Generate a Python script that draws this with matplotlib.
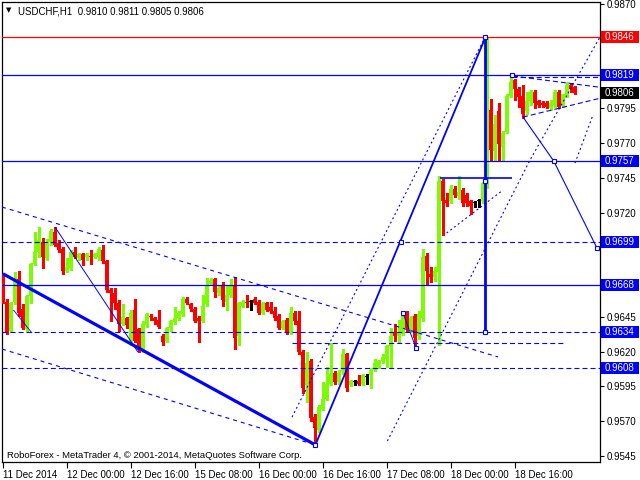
import numpy as np
import matplotlib
matplotlib.use("Agg")
import matplotlib.pyplot as plt
import matplotlib.transforms as mtransforms
from matplotlib.patches import Rectangle

plt.rcParams['lines.scale_dashes'] = False

# ---------------- data (USDCHF H1) ----------------
opens = [0.9673,0.9656,0.9635,0.9656,0.9672,0.9651,0.9636,0.9660,0.9683,0.9692,
         0.9699,0.9687,0.9699,0.9706,0.9698,0.9694,0.9678,0.9680,0.9692,0.9687,
         0.9690,0.9688,0.9689,0.9688,0.9688,0.9693,0.9685,0.9664,0.9662,0.9655,
         0.9640,0.9644,0.9627,0.9650,0.9636,0.9621,0.9639,0.9646,0.9644,0.9643,
         0.9631,0.9628,0.9637,0.9641,0.9644,0.9647,0.9658,0.9654,0.9651,0.9644,
         0.9642,0.9654,0.9669,0.9672,0.9662,0.9667,0.9656,0.9661,0.9668,0.9631,
         0.9653,0.9656,0.9656,0.9658,0.9656,0.9648,0.9655,0.9652,0.9649,0.9646,
         0.9637,0.9643,0.9634,0.9648,0.9642,0.9620,0.9596,0.9613,0.9573,0.9564,
         0.9579,0.9586,0.9597,0.9605,0.9598,0.9606,0.9618,0.9596,0.9598,0.9599,
         0.9597,0.9602,0.9603,0.9607,0.9609,0.9613,0.9615,0.9624,0.9634,0.9631,
         0.9633,0.9647,0.9636,0.9646,0.9631,0.9644,0.9689,0.9676,0.9674,0.9677,
         0.9743,0.9729,0.9728,0.9737,0.9732,0.9736,0.9733,0.9728,0.9727,0.9728,
         0.9728,0.9740,0.9794,0.9764,0.9793,0.9767,0.9778,0.9804,0.9815,0.9809,
         0.9804,0.9793,0.9800,0.9807,0.9800,0.9799,0.9799,0.9795,0.9797,0.9807,
         0.9797,0.9804,0.9812,0.9810]
highs = [0.9676,0.9658,0.9656,0.9677,0.9678,0.9654,0.9661,0.9684,0.9706,0.9710,
         0.9702,0.9701,0.9708,0.9710,0.9700,0.9695,0.9687,0.9693,0.9695,0.9691,
         0.9691,0.9691,0.9693,0.9691,0.9695,0.9697,0.9686,0.9666,0.9666,0.9657,
         0.9654,0.9645,0.9650,0.9658,0.9637,0.9642,0.9648,0.9647,0.9645,0.9650,
         0.9633,0.9638,0.9643,0.9652,0.9649,0.9659,0.9659,0.9655,0.9652,0.9646,
         0.9661,0.9673,0.9673,0.9673,0.9667,0.9670,0.9668,0.9672,0.9674,0.9656,
         0.9657,0.9661,0.9657,0.9659,0.9657,0.9656,0.9656,0.9656,0.9652,0.9647,
         0.9643,0.9644,0.9652,0.9649,0.9649,0.9621,0.9620,0.9615,0.9575,0.9582,
         0.9598,0.9609,0.9626,0.9606,0.9607,0.9622,0.9619,0.9600,0.9600,0.9603,
         0.9604,0.9604,0.9608,0.9615,0.9614,0.9618,0.9625,0.9637,0.9640,0.9643,
         0.9648,0.9649,0.9646,0.9647,0.9649,0.9694,0.9691,0.9681,0.9681,0.9746,
         0.9744,0.9734,0.9740,0.9739,0.9746,0.9738,0.9734,0.9729,0.9728,0.9730,
         0.9742,0.9846,0.9802,0.9790,0.9799,0.9779,0.9805,0.9819,0.9816,0.9810,
         0.9812,0.9807,0.9808,0.9808,0.9801,0.9800,0.9800,0.9801,0.9808,0.9808,
         0.9805,0.9814,0.9813,0.9811]
lows = [0.9655,0.9633,0.9634,0.9654,0.9646,0.9636,0.9634,0.9655,0.9682,0.9688,
        0.9680,0.9686,0.9697,0.9696,0.9692,0.9676,0.9677,0.9679,0.9687,0.9686,
        0.9682,0.9686,0.9683,0.9687,0.9686,0.9684,0.9663,0.9642,0.9651,0.9635,
        0.9639,0.9637,0.9625,0.9627,0.9620,0.9620,0.9638,0.9643,0.9640,0.9637,
        0.9625,0.9627,0.9635,0.9640,0.9643,0.9646,0.9654,0.9649,0.9641,0.9627,
        0.9641,0.9653,0.9668,0.9659,0.9661,0.9653,0.9650,0.9659,0.9622,0.9625,
        0.9652,0.9652,0.9650,0.9654,0.9647,0.9647,0.9649,0.9648,0.9643,0.9636,
        0.9636,0.9633,0.9633,0.9640,0.9618,0.9590,0.9584,0.9570,0.9553,0.9562,
        0.9578,0.9585,0.9596,0.9597,0.9597,0.9604,0.9592,0.9595,0.9596,0.9596,
        0.9596,0.9597,0.9594,0.9606,0.9608,0.9612,0.9609,0.9609,0.9628,0.9627,
        0.9632,0.9635,0.9634,0.9621,0.9629,0.9642,0.9669,0.9670,0.9671,0.9625,
        0.9704,0.9725,0.9727,0.9731,0.9730,0.9725,0.9725,0.9719,0.9724,0.9724,
        0.9727,0.9738,0.9758,0.9758,0.9758,0.9758,0.9777,0.9803,0.9801,0.9796,
        0.9788,0.9791,0.9797,0.9795,0.9796,0.9796,0.9795,0.9794,0.9796,0.9795,
        0.9796,0.9803,0.9807,0.9805]
closes = [0.9656,0.9634,0.9655,0.9673,0.9648,0.9637,0.9660,0.9683,0.9692,0.9700,
          0.9688,0.9699,0.9707,0.9697,0.9693,0.9678,0.9681,0.9692,0.9688,0.9690,
          0.9686,0.9690,0.9688,0.9690,0.9694,0.9685,0.9664,0.9662,0.9655,0.9640,
          0.9645,0.9639,0.9648,0.9628,0.9621,0.9640,0.9647,0.9645,0.9642,0.9638,
          0.9627,0.9637,0.9642,0.9644,0.9648,0.9658,0.9655,0.9651,0.9642,0.9642,
          0.9653,0.9668,0.9671,0.9663,0.9666,0.9657,0.9661,0.9668,0.9630,0.9655,
          0.9656,0.9655,0.9656,0.9655,0.9648,0.9655,0.9650,0.9649,0.9644,0.9637,
          0.9642,0.9634,0.9648,0.9642,0.9620,0.9594,0.9612,0.9572,0.9565,0.9580,
          0.9586,0.9597,0.9604,0.9598,0.9605,0.9618,0.9594,0.9599,0.9598,0.9597,
          0.9603,0.9602,0.9607,0.9612,0.9613,0.9616,0.9624,0.9631,0.9631,0.9634,
          0.9646,0.9637,0.9644,0.9630,0.9647,0.9688,0.9678,0.9674,0.9678,0.9743,
          0.9728,0.9727,0.9737,0.9733,0.9735,0.9727,0.9727,0.9725,0.9727,0.9728,
          0.9741,0.9792,0.9765,0.9784,0.9769,0.9777,0.9804,0.9814,0.9809,0.9803,
          0.9791,0.9800,0.9807,0.9799,0.9797,0.9797,0.9796,0.9799,0.9807,0.9796,
          0.9805,0.9812,0.9809,0.9806]

x_tick_bars = [0, 16, 32, 48, 64, 80, 96, 112, 128]
x_tick_labels = ["11 Dec 2014", "12 Dec 00:00", "12 Dec 16:00", "15 Dec 08:00",
                 "16 Dec 00:00", "16 Dec 16:00", "17 Dec 08:00", "18 Dec 00:00",
                 "18 Dec 16:00"]
y_ticks = [0.9870, 0.9845, 0.9820, 0.9795, 0.9770, 0.9745, 0.9720, 0.9695,
           0.9670, 0.9645, 0.9620, 0.9595, 0.9570, 0.9545]
y_hidden = [0.9845, 0.9820, 0.9695, 0.9670]   # covered by highlighted labels

# horizontal levels
red_level = 0.9846
solid_levels = [0.9819, 0.9757, 0.9668]
dashed_levels = [0.9699, 0.9634, 0.9608]
price_labels = [(0.9846, '#FF0000'), (0.9819, '#0000FF'), (0.9806, '#000000'),
                (0.9757, '#0000FF'), (0.9699, '#0000FF'), (0.9668, '#0000FF'),
                (0.9634, '#0000FF'), (0.9608, '#0000FF')]

# analysis objects (bar index, price)
thick_line = [(0.0, 0.9676), (78.1, 0.9553)]
impulse_line = [(78.1, 0.9553), (120.6, 0.9846)]
vertical_line = [(120.5, 0.9846), (120.5, 0.9634)]
target_path = [(130.0, 0.97887), (137.7, 0.9757), (148.5, 0.96945)]
level_9745 = [(109.25, 0.9745), (127.25, 0.9745)]
correction_line = [(13.0, 0.97096), (33.75, 0.96197)]
short_line_a = [(2.6, 0.9650), (7.2, 0.96336)]
short_line_b = [(100.0, 0.96478), (103.25, 0.96226)]
tri_upper = [(127.5, 0.98182), (149.25, 0.98101)]
tri_lower = [(130.0, 0.97887), (149.25, 0.98022)]
tri_top = [(127.25, 0.98175), (149.25, 0.98175)]
upper_channel = [(-0.25, 0.97240), (123.75, 0.96162)]
lower_channel = [(-0.25, 0.96219), (78.1, 0.9553)]
level_9626 = [(72.25, 0.96259), (140.0, 0.96259)]
dotted_a = [(72.25, 0.9573), (120.5, 0.9846)]
dotted_b = [(96.1, 0.95558), (131.75, 0.97578), (149.25, 0.98462)]
dotted_d = [(110.9, 0.97053), (125.0, 0.97362)]
dotted_e = [(143.0, 0.97556), (147.5, 0.97902)]
squares = [(120.6, 0.9846), (120.5, 0.9634), (78.1, 0.9553), (99.5, 0.9699),
           (100.0, 0.96478), (103.25, 0.96226), (127.25, 0.9819),
           (137.7, 0.9757), (148.5, 0.96945), (120.4, 0.9743)]

# ---------------- figure ----------------
W, H = 640, 480
fig = plt.figure(figsize=(6.4, 4.8), dpi=100)
fig.patch.set_facecolor('white')
ax = fig.add_axes([2 / W, 18 / H, 598 / W, 460 / H])
ax.set_xlim(-0.25, 149.25)
ax.set_ylim(0.95407, 0.98714)
FONT = ['Liberation Sans', 'DejaVu Sans']

GREEN = '#7CFC00'
RED = '#FF0000'
BLUE = '#0000FF'

o = np.array(opens); h = np.array(highs); l = np.array(lows); c = np.array(closes)
xb = np.arange(len(o))
cols = np.where(c > o, GREEN, np.where(c < o, RED, 'black'))
ax.vlines(xb, l, h, colors=cols, lw=0.75, zorder=3, antialiased=False)
bh = np.maximum(np.abs(c - o), 0.00007)
bottoms = np.minimum(o, c)
ax.bar(xb, bh, bottom=bottoms, width=0.78, color=cols, lw=0, zorder=4,
       antialiased=False)

# horizontal levels
HLW = 0.9
ax.axhline(red_level, color=RED, lw=HLW, zorder=5)
for lv in solid_levels:
    ax.axhline(lv, color=BLUE, lw=HLW, zorder=5)
for lv in dashed_levels:
    ax.axhline(lv, color=BLUE, lw=0.8, ls=(0, (3.6, 2.2)), zorder=5)

def path(pts, **kw):
    xs, ys = zip(*pts)
    ax.plot(xs, ys, color=BLUE, zorder=6, solid_capstyle='butt', **kw)

DASH = (0, (3.6, 2.2))
DOT = (0, (1.4, 2.0))
path(thick_line, lw=2.3)
path(impulse_line, lw=1.3)
path(vertical_line, lw=2.0)
path(target_path, lw=0.8)
path(level_9745, lw=1.2)
path(correction_line, lw=0.7)
path(short_line_a, lw=0.6)
path(short_line_b, lw=0.7)
path(tri_upper, lw=0.8, ls=DASH)
path(tri_lower, lw=0.8, ls=DASH)
path(tri_top, lw=0.8, ls=DASH)
path(upper_channel, lw=0.8, ls=(0, (2.9, 2.9)))
path(lower_channel, lw=0.8, ls=(0, (2.9, 2.9)))
path(level_9626, lw=0.8, ls=DASH)
path(dotted_a, lw=0.8, ls=DOT)
path(dotted_b, lw=0.8, ls=DOT)
path(dotted_d, lw=0.8, ls=DOT)
path(dotted_e, lw=0.8, ls=DOT)
sx, sy = zip(*squares)
ax.plot(sx, sy, ls='none', marker='s', ms=3.2, mfc='white', mec=BLUE, mew=0.8, zorder=7)

# axes styling
for s in ax.spines.values():
    s.set_color('black'); s.set_linewidth(0.9)
ax.yaxis.tick_right()
ax.set_yticks(y_ticks)
ax.set_yticklabels(["" if v in y_hidden else f"{v:.4f}" for v in y_ticks],
                   fontsize=7, family=FONT)
ax.tick_params(axis='y', direction='out', length=3, width=0.8, pad=2, colors='black')
ax.set_xticks(x_tick_bars)
ax.set_xticklabels(x_tick_labels, fontsize=7, family=FONT)
ax.tick_params(axis='x', direction='out', length=4, width=0.8, pad=1.5, colors='black')
for lbl in ax.get_xticklabels():
    lbl.set_horizontalalignment('left')

# highlighted price labels on the right
bt = mtransforms.blended_transform_factory(fig.transFigure, ax.transData)
box_h = 12 * (ax.get_ylim()[1] - ax.get_ylim()[0]) / 460
for val, colr in price_labels:
    ax.add_patch(Rectangle((601 / W, val - box_h / 2), 38 / W, box_h, transform=bt,
                           facecolor=colr, edgecolor='none', clip_on=False, zorder=20))
    ax.text(605 / W, val, f"{val:.4f}", transform=bt, color='white', fontsize=7,
            family=FONT, va='center', ha='left', zorder=21, clip_on=False)

# title and footer
fig.text(6 / W, 1 - 10.5 / H, "\u25BC", fontsize=5, family=['DejaVu Sans'], va='center', ha='left')
fig.text(18 / W, 1 - 11 / H, "USDCHF,H1  0.9810 0.9811 0.9805 0.9806", fontsize=7,
         family=FONT, va='center', ha='left')
fig.text(7 / W, 1 - 455 / H, "RoboForex - MetaTrader 4, \u00a9 2001-2014, MetaQuotes Software Corp.",
         fontsize=6.8, family=FONT, va='center', ha='left')

fig.savefig("out.png", dpi=100)
